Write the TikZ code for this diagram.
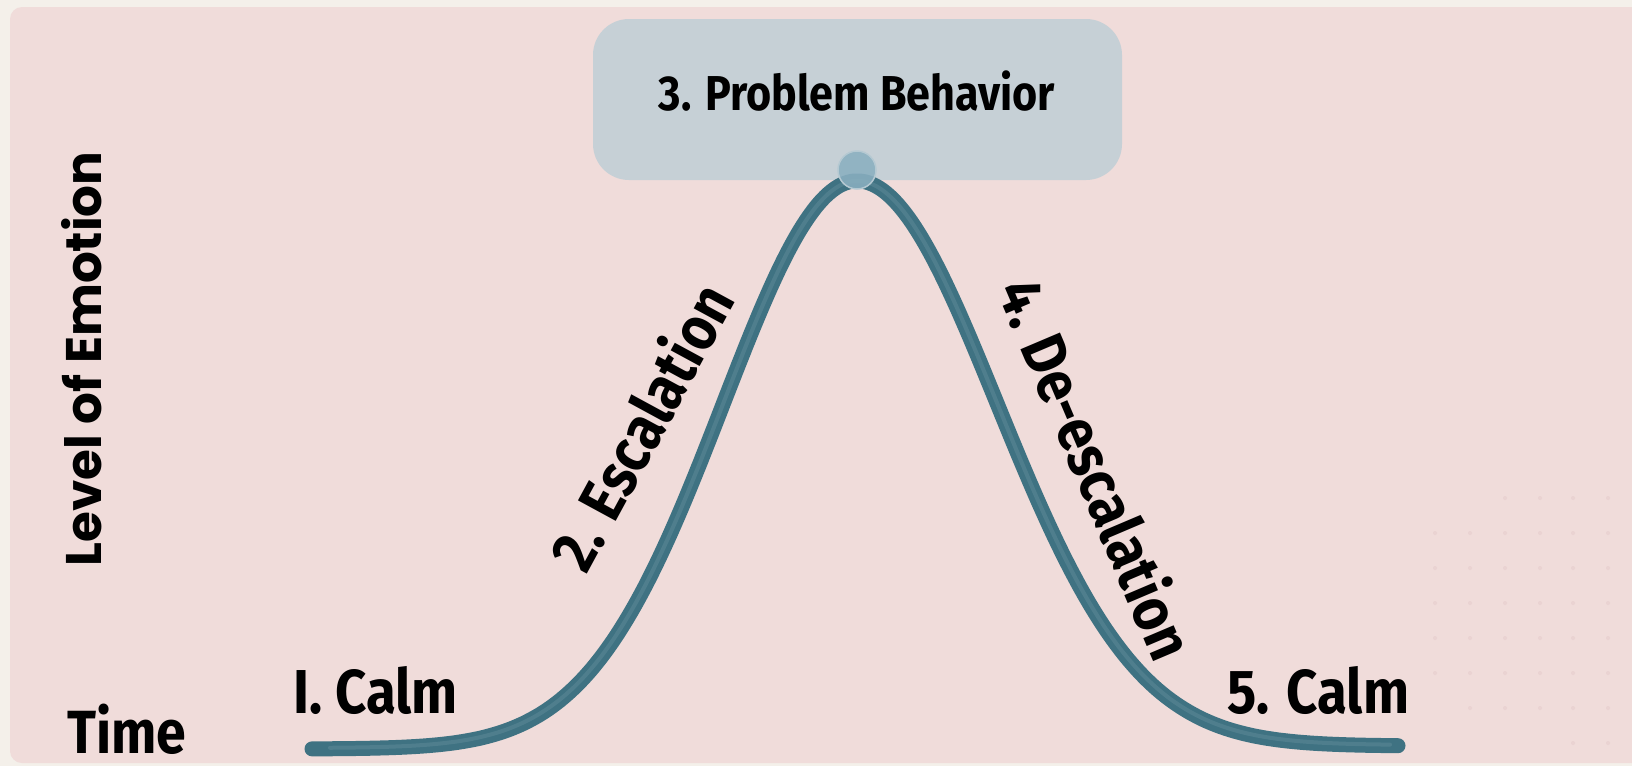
\documentclass[tikz,border=0pt]{standalone}
\usepackage{fontspec}
\setmainfont{Fira Sans}[FakeStretch=0.88]
\newfontfamily\popfont{Poppins}
\definecolor{cream}{HTML}{F4F0EA}
\definecolor{panel}{HTML}{F0DCDA}
\definecolor{boxfill}{HTML}{C6D0D6}
\definecolor{curve}{HTML}{3F7282}
\definecolor{curvelight}{HTML}{6D96A3}
\definecolor{peak}{HTML}{8AAFC0}
\definecolor{peakring}{HTML}{B5C9D2}
\definecolor{dotc}{HTML}{EAD3D2}
\begin{document}
\begin{tikzpicture}[x=1pt,y=-1pt,
  lbl/.style={inner sep=0pt, font=\bfseries\fontsize{62}{62}\selectfont, text=black},
  phase/.style={lbl},
  dotmark/.style={fill=dotc, draw=none}]
\useasboundingbox (0,0) rectangle (1632,766);
\fill[cream] (0,0) rectangle (1632,766);
\fill[panel, rounded corners=12pt] (10,7) rectangle (1660,763);
% faint dot grid
\foreach \y/\xs in {498/1505,533/1435,568/1435,603/1435,638/1435,673/1435,708/1470,743/1573}{
  \foreach \x in {1435,1470,1505,1540,1573,1608}{
    \ifnum\x<\xs\relax\else \fill[dotmark] (\x,\y) circle (2pt);\fi
  }
}
% problem behavior box
\node[fill=boxfill, rounded corners=36pt, minimum width=529pt, minimum height=161pt, inner sep=0pt] (box) at (857.5,99.5) {};
\node[inner sep=0pt, font=\bfseries\fontsize{49}{49}\selectfont, anchor=base] (pb) at (857,110) {3. Problem Behavior};
% curve (bell shape)
\draw[curve, line width=15pt, line cap=round, line join=round]
  plot[domain=312:857, samples=120, smooth] (\x, {749 - 568*exp(-0.5*((\x-857)/134)^2)})
  -- plot[domain=857:1398, samples=120, smooth] (\x, {746 - 565*exp(-0.5*((\x-857)/140)^2)});
\draw[curvelight, line width=4pt, line cap=round, opacity=0.35]
  plot[domain=330:857, samples=120, smooth] (\x, {748 - 567*exp(-0.5*((\x-857)/134)^2)})
  -- plot[domain=857:1390, samples=120, smooth] (\x, {745 - 564*exp(-0.5*((\x-857)/140)^2)});
% peak marker
\node[circle, fill=peak, fill opacity=0.88, draw=peakring, line width=1.5pt, minimum size=38pt, inner sep=0pt] (top) at (857,170) {};
% labels
\node[inner sep=0pt, font=\popfont\bfseries\fontsize{50}{50}\selectfont, rotate=90, anchor=base] (yax) at (101,359) {Level of Emotion};
\node[lbl, font=\bfseries\fontsize{61}{61}\selectfont, anchor=base west] (xax) at (67,753) {Time};
\node[phase, anchor=base west] (p1) at (293,713) {I. Calm};
\node[phase, rotate=61.5] (p2) at (640,426) {2. Escalation};
\node[phase, rotate=-67] (p4) at (1098,468) {4. De-escalation};
\node[phase, anchor=base west] (p5) at (1227,713) {5. Calm};
\end{tikzpicture}
\end{document}
